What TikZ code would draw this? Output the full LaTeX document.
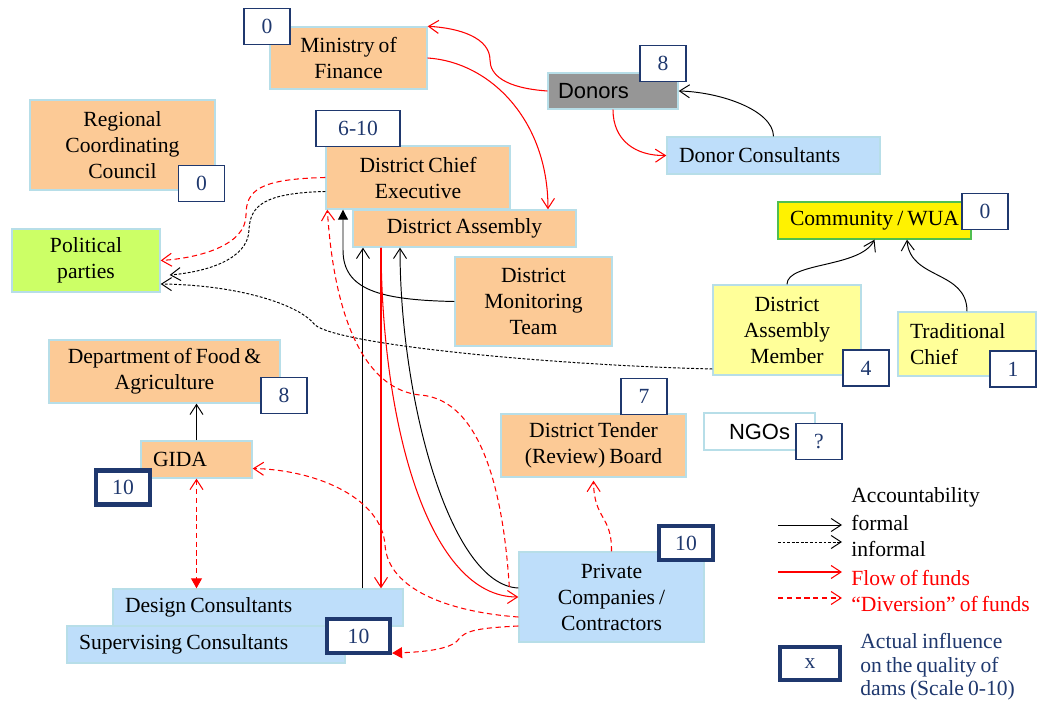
\documentclass[tikz,border=0pt]{standalone}
\usepackage{fontspec}
\setmainfont{Liberation Serif}[WordSpace=0.75]
\setsansfont{Liberation Sans}
\usetikzlibrary{arrows.meta,calc}

\definecolor{peach}{RGB}{252,202,150}
\definecolor{edge}{RGB}{183,222,232}
\definecolor{skyfill}{RGB}{190,222,250}
\definecolor{donorgray}{RGB}{150,150,150}
\definecolor{partygreen}{RGB}{204,255,102}
\definecolor{paleyellow}{RGB}{255,255,153}
\definecolor{wuagreen}{RGB}{80,190,80}
\definecolor{navy}{RGB}{31,56,110}
\definecolor{fundred}{RGB}{255,0,0}

\tikzset{
  box/.style={draw=edge, line width=0.8pt, inner sep=0pt, align=center, font=\fontsize{12.3}{14.8}\selectfont},
  lbox/.style={box, align=flush left, inner xsep=0.24cm, inner ysep=0pt},
  score/.style={draw=navy, fill=white, text=navy, line width=0.8pt, inner sep=0pt, minimum width=0.92cm, minimum height=0.72cm, font=\fontsize{12.3}{14.5}\selectfont},
  bigscore/.style={score, line width=2.4pt, minimum width=1.08cm, minimum height=0.68cm},
  acc/.style={black, line width=0.55pt, -{Straight Barb[length=2mm,width=2.6mm]}},
  inf/.style={acc, dash pattern=on 1.6pt off 1pt},
  fund/.style={fundred, line width=0.6pt, -{Straight Barb[length=2mm,width=2.6mm]}},
  div/.style={fund, dash pattern=on 3pt off 2pt},
  lg/.style={anchor=west, inner sep=0pt, font=\fontsize{12.3}{14.5}\selectfont},
}

\begin{document}
\begin{tikzpicture}[x=0.02cm, y=-0.02cm]
\useasboundingbox (0,0) rectangle (1039,706);

\node[box, fill=peach, minimum width=3.14cm, minimum height=1.24cm] (mof) at (348.5,58) {Ministry of\\Finance};
\node[score] (s-mof) at (267,26.5) {0};
\node[lbox, fill=donorgray, text width=2.2cm, inner xsep=0.2cm, minimum height=0.72cm, font=\sffamily\fontsize{12.5}{14}\selectfont] (donors) at (613,91) {Donors};
\node[score] (s-donors) at (663,63.5) {8};
\node[lbox, fill=skyfill, text width=3.78cm, minimum height=0.74cm] (dcons) at (773.5,155.5) {Donor Consultants};
\node[box, fill=peach, minimum width=3.7cm, minimum height=1.8cm] (rcc) at (122.5,145) {Regional\\Coordinating\\Council};
\node[score] (s-rcc) at (201.5,183.5) {0};
\node[box, fill=peach, minimum width=3.68cm, minimum height=1.26cm] (dce) at (418,177.5) {District Chief\\Executive};
\node[score, minimum width=1.68cm] (s-dce) at (358,128.5) {6-10};
\node[box, fill=peach, minimum width=4.46cm, minimum height=0.74cm] (da) at (464.5,228.5) {District Assembly};
\node[box, fill=partygreen, minimum width=2.96cm, minimum height=1.26cm] (pp) at (86,260.5) {Political\\parties};
\node[box, fill=peach, minimum width=3.14cm, minimum height=1.78cm] (dmt) at (533.5,301.5) {District\\Monitoring\\Team};
\node[box, fill=yellow, draw=wuagreen, minimum width=3.86cm, minimum height=0.74cm] (wua) at (874.5,220.5) {Community / WUA};
\node[score] (s-wua) at (985,211.5) {0};
\node[box, fill=paleyellow, minimum width=2.96cm, minimum height=1.8cm] (dam) at (787,330) {District\\Assembly\\Member};
\node[score] (s-dam) at (866,368) {4};
\node[lbox, fill=paleyellow, text width=2.28cm, minimum height=1.28cm] (tc) at (967,344) {Traditional\\Chief};
\node[score] (s-tc) at (1013,369) {1};
\node[box, fill=peach, minimum width=4.62cm, minimum height=1.26cm] (dfa) at (164.5,371.5) {Department of Food \&\\Agriculture};
\node[score] (s-dfa) at (284,395.5) {8};
\node[lbox, fill=peach, text width=1.74cm, minimum height=0.74cm] (gida) at (196.5,459.5) {GIDA};
\node[bigscore] (s-gida) at (123,487.5) {10};
\node[box, fill=peach, minimum width=3.7cm, minimum height=1.26cm] (dtb) at (593.5,445.5) {District Tender\\(Review) Board};
\node[score] (s-dtb) at (644,396.5) {7};
\node[box, fill=white, minimum width=2.22cm, minimum height=0.74cm, font=\sffamily\fontsize{12.5}{14}\selectfont] (ngo) at (759.5,431.5) {NGOs};
\node[score] (s-ngo) at (819,441.5) {?};
\node[box, fill=skyfill, minimum width=3.7cm, minimum height=1.8cm] (pc) at (611.5,597) {Private\\Companies /\\Contractors};
\node[bigscore] (s-pc) at (686,543) {10};
\node[lbox, fill=skyfill, text width=5.32cm, minimum height=0.74cm] (desc) at (258,607.5) {Design Consultants};
\node[lbox, fill=skyfill, text width=5.08cm, minimum height=0.74cm] (supc) at (206,644.5) {Supervising Consultants};
\node[bigscore, minimum width=1.26cm] (s-supc) at (358.5,636) {10};

\draw[fund] (donors.west) .. controls (505,88) and (490,75) .. (490,60) .. controls (490,38) and (460,28) .. (mof.north east);
\draw[fund] (mof.east) .. controls (490,62) and (548,120) .. ([xshift=1.67cm]da.north);
\draw[fund] (donors.south) .. controls (613,140) and (635,156) .. (dcons.west);
\draw[acc] (dcons.north) .. controls (773,110) and (720,92) .. (donors.east);
\draw[div] (dce.west) .. controls (260,179) and (246,190) .. (246,215) .. controls (246,245) and (200,258) .. (pp.east);
\draw[inf] ([yshift=-0.28cm]dce.west) .. controls (265,193) and (250,205) .. (249,230) .. controls (248,260) and (205,272) .. ([xshift=0.18cm,yshift=-0.29cm]pp.east);
\draw[inf] ([yshift=-0.78cm]dam.west) .. controls (550,365) and (340,345) .. (315,325) .. controls (300,305) and (240,285) .. ([yshift=-0.47cm]pp.east);
\draw[acc, -{Triangle[length=2mm,width=2mm]}] (dmt.west) .. controls (380,300) and (343,290) .. (343,250) -- ([xshift=-1.5cm]dce.south);
\coordinate (dc-up) at ([xshift=2.1cm]desc.north);
\draw[acc] (dc-up) -- (dc-up |- da.south);
\coordinate (da-down) at ([xshift=-1.67cm]da.south);
\draw[fund] (da-down) -- (da-down |- desc.north);
\draw[acc] ([yshift=0.18cm]pc.west) .. controls (450,585) and (400,400) .. ([xshift=-1.29cm]da.south);
\draw[fund] (da-down) .. controls (382,430) and (430,597) .. (pc.west);
\draw[div] ([xshift=-0.18cm,yshift=0.2cm]pc.west) .. controls (505,520) and (490,400) .. (420,395) .. controls (370,390) and (335,330) .. ([xshift=0.04cm]dce.south west);
\draw[div] ([yshift=-0.4cm]pc.west) .. controls (450,612) and (388,590) .. (385,545) .. controls (382,500) and (320,470) .. ([yshift=-0.18cm]gida.east);
\draw[div, -{Triangle[length=2mm,width=2.2mm]}] ([yshift=-0.58cm]pc.west) .. controls (480,628) and (465,630) .. (458,640) .. controls (450,650) and (420,652) .. ([yshift=0.04cm]s-supc.south east);
\draw[div, {Straight Barb[length=2mm,width=2.6mm]}-{Triangle[length=2mm,width=2.2mm]}] (gida.south) -- (gida.south |- desc.north);
\draw[acc] (gida.north) -- (gida.north |- dfa.south);
\draw[div] (pc.north) .. controls (612,515) and (594,520) .. ([yshift=-0.06cm]dtb.south);
\draw[acc] (dam.north) .. controls (787,262) and (860,268) .. (wua.south);
\draw[acc] (tc.north) .. controls (967,270) and (910,280) .. ([xshift=0.65cm]wua.south);

\foreach \y/\st in {525/acc,542/inf,572/fund,598/div}{
  \coordinate (\st-a) at (778,\y);
  \coordinate (\st-b) at (842,\y);
  \draw[\st] (\st-a) -- (\st-b);
}
\node[lg] (lg-acc) at (851,497) {Accountability};
\node[lg] (lg-formal) at (851,523) {formal};
\node[lg] (lg-inf) at (851,549) {informal};
\node[lg, text=fundred] (lg-fund) at (851,578) {Flow of funds};
\node[lg, text=fundred] (lg-div) at (851,604) {“Diversion” of funds};
\node[bigscore, minimum width=1.2cm, minimum height=0.66cm] (lg-box) at (810,663.5) {x};
\node[lg, text=navy, align=left, font=\fontsize{12.3}{13.4}\selectfont] (lg-note) at (860,667) {Actual influence\\on the quality of\\dams (Scale 0-10)};
\end{tikzpicture}
\end{document}
